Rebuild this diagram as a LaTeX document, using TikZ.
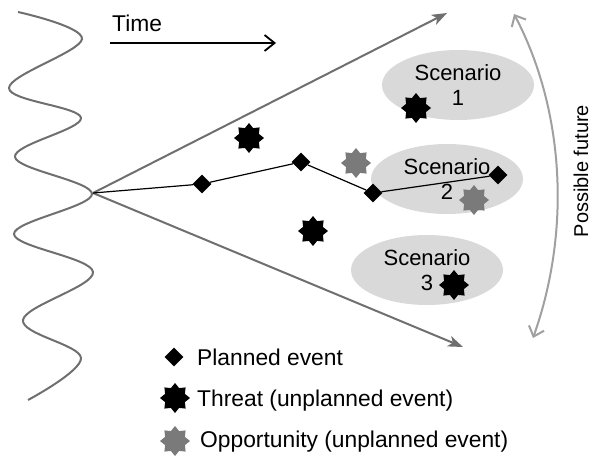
\documentclass[tikz,border=0pt]{standalone}
\usepackage{fontspec}
\setmainfont{Liberation Sans}
\usetikzlibrary{shapes.geometric,arrows.meta}
\definecolor{fangray}{HTML}{6F6F6F}
\definecolor{arcgray}{HTML}{A0A0A0}
\definecolor{oppgray}{HTML}{7A7A7A}
\definecolor{ellgray}{HTML}{D9D9D9}
\begin{document}
\begin{tikzpicture}[x=1pt,y=-1pt,
  every node/.style={font=\fontsize{22}{25}\selectfont},
  fanline/.style={draw=fangray, line width=2pt, -{Stealth[length=15pt,width=11pt,inset=4pt]}},
  wave/.style={draw=fangray, line width=2pt},
  arcline/.style={draw=arcgray, line width=2pt, {Straight Barb[length=9pt,width=16pt]}-{Straight Barb[length=9pt,width=16pt]}},
  timeline/.style={draw=black, line width=1.8pt, -{Straight Barb[length=10pt,width=16pt]}},
  pathline/.style={draw=black, line width=1.2pt},
  planned/.style={diamond, fill=black, inner sep=0pt, minimum width=19pt, minimum height=19pt},
  threat/.style={star, star points=8, star point ratio=1.4, fill=black, inner sep=0pt, minimum size=30pt},
  opportunity/.style={threat, fill=oppgray},
  scen/.style={ellipse, fill=ellgray, minimum width=152pt, minimum height=70pt, inner sep=0pt, align=center},
  legend/.style={anchor=base west, inner sep=0pt, font=\fontsize{22.8}{26}\selectfont}
]
\useasboundingbox (0,0) rectangle (591,455);

% wave
\draw[wave] plot[smooth, tension=0.6] coordinates {(18,12) (82,39) (9,88) (81,118) (15,157) (92,194) (14,234) (93,272) (23,320) (81,358) (28,400)};

% fan
\coordinate (O) at (93,193);
\coordinate (fanU) at (447,13);
\coordinate (fanL) at (463,347);
\draw[fanline] (O) -- (fanU);
\draw[fanline] (O) -- (fanL);

% time
\coordinate (t0) at (110,43);
\coordinate (t1) at (276,43);
\draw[timeline] (t0) -- (t1);
\node[legend] (time) at (112,31.5) {Time};

% scenarios
\node[scen] (s1) at (458,85) {Scenario\\1};
\node[scen] (s2) at (447,179) {Scenario\\2};
\node[scen] (s3) at (427,270) {Scenario\\3};

% planned path
\node[planned] (d1) at (202,184) {};
\node[planned] (d2) at (301,162) {};
\node[planned] (d3) at (373,193) {};
\node[planned] (d4) at (498,175) {};
\draw[pathline] (O) -- (d1) -- (d2) -- (d3) -- (d4);

% unplanned events
\node[threat] (th1) at (249,138) {};
\node[threat] (th2) at (416,108) {};
\node[threat] (th3) at (313,231) {};
\node[threat] (th4) at (454,285) {};
\node[opportunity] (op1) at (356,163) {};
\node[opportunity] (op2) at (474,200) {};

% possible future arc
\coordinate (a0) at (514,14);
\coordinate (a1) at (533,338);
\draw[arcline] (a0) .. controls (562,105) and (573,225) .. (a1);
\node[rotate=90, font=\fontsize{20}{24}\selectfont] (pf) at (581,171) {Possible future};

% legend
\node[planned] (lg1) at (174,357) {};
\node[legend] (lt1) at (197,365) {Planned event};
\node[threat] (lg2) at (175,398) {};
\node[legend] (lt2) at (197,406) {Threat (unplanned event)};
\node[opportunity] (lg3) at (175,441) {};
\node[legend] (lt3) at (200,447.5) {Opportunity (unplanned event)};
\end{tikzpicture}
\end{document}
